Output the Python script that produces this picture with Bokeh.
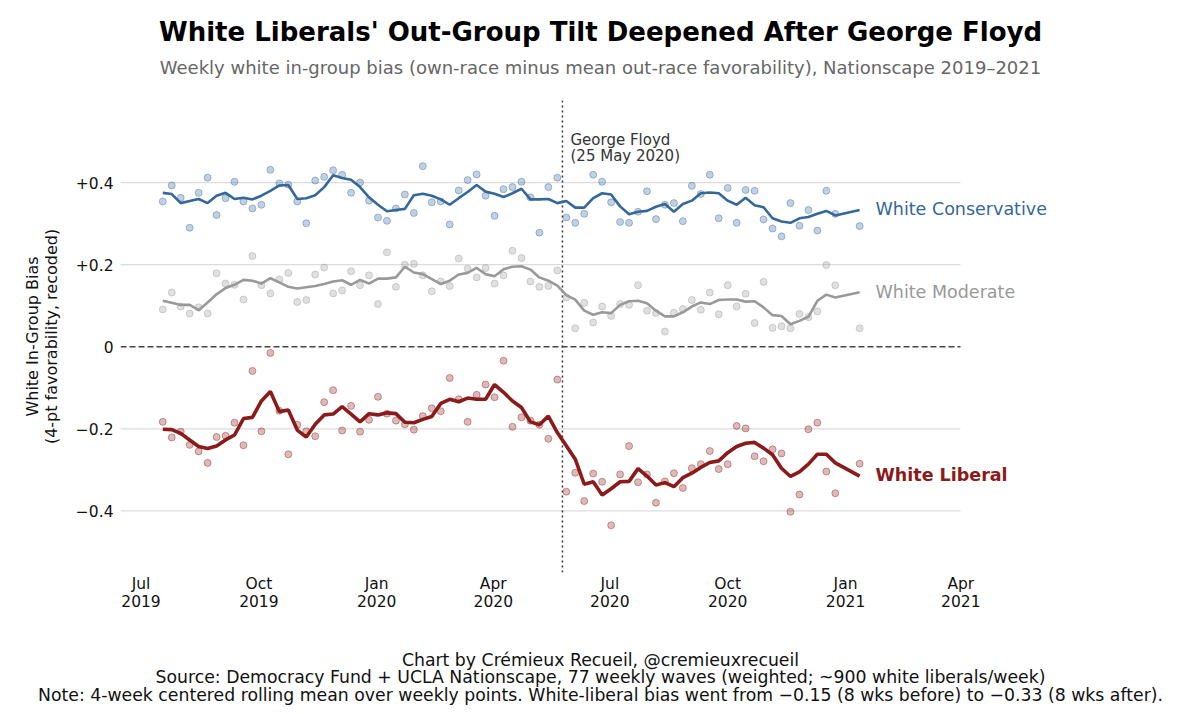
import pandas as pd
from bokeh.plotting import figure
from bokeh.layouts import column
from bokeh.models import (Range1d, Label, FixedTicker, CustomJSTickFormatter,
                          ColumnDataSource)
from bokeh.embed import file_html
from bokeh.resources import INLINE

# ---------------- data ----------------
dates = list(pd.date_range("2019-07-18", periods=76, freq="7D")) + [pd.Timestamp("2021-01-12")]

cons_pts = [0.354, 0.393, 0.363, 0.290, 0.375, 0.412, 0.321, 0.362, 0.402, 0.354,
            0.337, 0.346, 0.431, 0.398, 0.395, 0.354, 0.301, 0.405, 0.414, 0.430,
            0.419, 0.375, 0.400, 0.356, 0.315, 0.307, 0.337, 0.371, 0.326, 0.440,
            0.352, 0.354, 0.298, 0.381, 0.406, 0.420, 0.368, 0.319, 0.384, 0.389,
            0.402, 0.364, 0.278, 0.389, 0.412, 0.315, 0.302, 0.324, 0.419, 0.402,
            0.352, 0.304, 0.302, 0.329, 0.379, 0.311, 0.346, 0.350, 0.306, 0.392,
            0.372, 0.419, 0.313, 0.387, 0.302, 0.382, 0.380, 0.310, 0.288, 0.269,
            0.350, 0.295, 0.333, 0.283, 0.380, 0.324, 0.294]
cons_line = [0.375, 0.372, 0.350, 0.355, 0.360, 0.350, 0.368, 0.375, 0.360, 0.363,
             0.359, 0.368, 0.380, 0.393, 0.394, 0.360, 0.362, 0.369, 0.389, 0.418,
             0.411, 0.407, 0.389, 0.364, 0.346, 0.330, 0.333, 0.336, 0.369, 0.373,
             0.368, 0.359, 0.346, 0.362, 0.377, 0.394, 0.378, 0.373, 0.365, 0.374,
             0.385, 0.359, 0.359, 0.360, 0.350, 0.355, 0.339, 0.339, 0.362, 0.374,
             0.371, 0.342, 0.323, 0.329, 0.331, 0.341, 0.348, 0.329, 0.348, 0.356,
             0.374, 0.376, 0.374, 0.356, 0.346, 0.363, 0.345, 0.340, 0.313, 0.305,
             0.302, 0.313, 0.316, 0.324, 0.331, 0.320, 0.333]

mod_pts = [0.091, 0.132, 0.098, 0.081, 0.096, 0.081, 0.179, 0.154, 0.151, 0.115,
           0.221, 0.150, 0.130, 0.164, 0.180, 0.109, 0.114, 0.176, 0.193, 0.130,
           0.137, 0.184, 0.150, 0.174, 0.104, 0.230, 0.146, 0.200, 0.202, 0.174,
           0.135, 0.159, 0.148, 0.215, 0.190, 0.169, 0.192, 0.154, 0.174, 0.234,
           0.216, 0.159, 0.146, 0.148, 0.186, 0.120, 0.045, 0.107, 0.059, 0.098,
           0.075, 0.104, 0.102, 0.150, 0.088, 0.082, 0.037, 0.083, 0.092, 0.114,
           0.090, 0.132, 0.079, 0.150, 0.098, 0.129, 0.058, 0.158, 0.046, 0.050,
           0.045, 0.080, 0.072, 0.086, 0.199, 0.150, 0.045]
mod_line = [0.112, 0.107, 0.102, 0.102, 0.089, 0.108, 0.128, 0.143, 0.151, 0.163,
            0.161, 0.154, 0.167, 0.157, 0.146, 0.142, 0.145, 0.148, 0.153, 0.159,
            0.162, 0.151, 0.163, 0.154, 0.166, 0.166, 0.169, 0.195, 0.181, 0.177,
            0.165, 0.153, 0.161, 0.176, 0.180, 0.192, 0.177, 0.172, 0.189, 0.195,
            0.196, 0.188, 0.169, 0.161, 0.149, 0.126, 0.115, 0.088, 0.078, 0.084,
            0.082, 0.102, 0.111, 0.112, 0.106, 0.088, 0.074, 0.074, 0.084, 0.098,
            0.108, 0.104, 0.114, 0.115, 0.115, 0.110, 0.111, 0.096, 0.077, 0.075,
            0.055, 0.063, 0.073, 0.112, 0.127, 0.120, 0.133]

lib_pts = [-0.183, -0.221, -0.207, -0.239, -0.255, -0.283, -0.220, -0.217, -0.185, -0.240,
           -0.059, -0.206, -0.015, -0.156, -0.262, -0.190, -0.206, -0.218, -0.135, -0.106,
           -0.204, -0.144, -0.207, -0.178, -0.122, -0.163, -0.180, -0.189, -0.202, -0.169,
           -0.150, -0.157, -0.076, -0.128, -0.183, -0.117, -0.092, -0.123, -0.034, -0.195,
           -0.172, -0.180, -0.190, -0.224, -0.080, -0.353, -0.307, -0.376, -0.309, -0.329,
           -0.435, -0.311, -0.242, -0.330, -0.311, -0.380, -0.328, -0.308, -0.344, -0.296,
           -0.286, -0.254, -0.298, -0.286, -0.193, -0.199, -0.267, -0.279, -0.250, -0.260,
           -0.402, -0.360, -0.201, -0.185, -0.304, -0.357, -0.285]
lib_line = [-0.201, -0.202, -0.211, -0.227, -0.243, -0.248, -0.242, -0.227, -0.215, -0.175,
            -0.172, -0.132, -0.109, -0.158, -0.154, -0.203, -0.220, -0.189, -0.166, -0.164,
            -0.146, -0.164, -0.183, -0.163, -0.166, -0.161, -0.163, -0.184, -0.185, -0.177,
            -0.170, -0.138, -0.128, -0.134, -0.125, -0.128, -0.128, -0.092, -0.111, -0.132,
            -0.148, -0.183, -0.190, -0.169, -0.209, -0.241, -0.274, -0.335, -0.329, -0.361,
            -0.346, -0.329, -0.328, -0.297, -0.315, -0.337, -0.331, -0.341, -0.319, -0.308,
            -0.294, -0.282, -0.278, -0.258, -0.243, -0.235, -0.233, -0.247, -0.263, -0.296,
            -0.316, -0.305, -0.286, -0.262, -0.262, -0.283, -0.315]

x_tick_dates = ["2019-07-01", "2019-10-01", "2020-01-01", "2020-04-01",
                "2020-07-01", "2020-10-01", "2021-01-01", "2021-04-01"]
y_ticks = [-0.4, -0.2, 0.0, 0.2, 0.4]
grid_values = [-0.4, -0.2, 0.2, 0.4]
event_date = "2020-05-25"

series_names = ["White Conservative", "White Moderate", "White Liberal"]

TITLE = "White Liberals' Out-Group Tilt Deepened After George Floyd"
SUBTITLE = ("Weekly white in-group bias (own-race minus mean out-race favorability), "
            "Nationscape 2019\u20132021")
Y_LABEL = "White In-Group Bias\n(4-pt favorability, recoded)"
FOOTER = ["Chart by Cr\u00e9mieux Recueil, @cremieuxrecueil",
          "Source: Democracy Fund + UCLA Nationscape, 77 weekly waves (weighted; ~900 white liberals/week)",
          "Note: 4-week centered rolling mean over weekly points. White-liberal bias went from "
          "\u22120.15 (8 wks before) to \u22120.33 (8 wks after)."]

# ---------------- style / layout ----------------
FONT = "DejaVu Sans"
BLUE = "#34679a"
GRAY = "#999999"
RED = "#8b1a1a"
DAY = 86400000.0


def ms(ts):
    return pd.Timestamp(ts).value / 1e6


W, H = 1200, 714
HEAD_H = 92                      # title strip height
MAIN_H = H - HEAD_H
# main chart frame spans page x 120..1080, page y 100..572
BL, BR, BT = 120, 120, 100 - HEAD_H
BB = MAIN_H - (572 - HEAD_H)
FW = W - BL - BR
PX_PER_DAY = 1.281
X0 = ms("2019-07-01") - (140.5 - BL) / PX_PER_DAY * DAY
X1 = X0 + FW / PX_PER_DAY * DAY
Y0, Y1 = -0.55, 0.60


def px_x(px):
    return X0 + (px - BL) / FW * (X1 - X0)


def px_y(py):
    return Y1 - (py - 100) / 472 * (Y1 - Y0)


# ---------- title strip ----------
head = figure(width=W, height=HEAD_H, x_range=Range1d(0, W), y_range=Range1d(HEAD_H, 0),
              output_backend="svg", toolbar_location=None,
              x_axis_location=None, y_axis_location=None,
              min_border_left=0, min_border_right=0, min_border_top=0, min_border_bottom=0)
head.outline_line_color = None
head.grid.visible = False
head.background_fill_color = "white"
head.border_fill_color = "white"
head.add_layout(Label(x=600, y=31, text=TITLE, text_font=FONT, text_font_size="26px",
                      text_font_style="bold", text_color="#000000",
                      text_align="center", text_baseline="middle"))
head.add_layout(Label(x=600, y=67, text=SUBTITLE, text_font=FONT, text_font_size="18px",
                      text_color="#666666", text_align="center", text_baseline="middle"))

# ---------- main chart ----------
p = figure(width=W, height=MAIN_H, x_axis_type="datetime",
           x_range=Range1d(X0, X1), y_range=Range1d(Y0, Y1),
           output_backend="svg", toolbar_location=None,
           min_border_left=BL, min_border_right=BR,
           min_border_top=BT, min_border_bottom=BB)
p.outline_line_color = None
p.background_fill_color = "white"
p.border_fill_color = "white"
p.xgrid.grid_line_color = None
p.ygrid.grid_line_color = None

for ax in (p.xaxis, p.yaxis):
    ax.axis_line_color = None
    ax.major_tick_line_color = None
    ax.minor_tick_line_color = None
    ax.major_tick_out = 0
    ax.major_tick_in = 0
    ax.major_label_text_font = FONT
    ax.major_label_text_font_size = "15.5px"
    ax.major_label_text_color = "#111111"
    ax.axis_label_text_font = FONT
    ax.axis_label_text_font_style = "normal"
    ax.axis_label_text_color = "#111111"

p.xaxis.ticker = FixedTicker(ticks=[ms(d) for d in x_tick_dates])
p.xaxis.formatter = CustomJSTickFormatter(code="""
const m = ["Jan","Feb","Mar","Apr","May","Jun","Jul","Aug","Sep","Oct","Nov","Dec"];
const d = new Date(tick);
return m[d.getUTCMonth()] + "\\n" + d.getUTCFullYear();
""")
p.xaxis.major_label_standoff = 2
p.xaxis.major_label_text_line_height = 1.0
p.xaxis.axis_label = "\n".join(FOOTER)
p.xaxis.axis_label_text_font_size = "17.3px"
p.xaxis.axis_label_text_line_height = 0.875
p.xaxis.axis_label_standoff = 36

p.yaxis.ticker = FixedTicker(ticks=y_ticks)
p.yaxis.formatter = CustomJSTickFormatter(code="""
if (Math.abs(tick) < 1e-9) return "0";
const s = Math.abs(tick).toFixed(1);
return tick > 0 ? "+" + s : "\\u2212" + s;
""")
p.yaxis.major_label_standoff = 7
p.yaxis.axis_label = Y_LABEL
p.yaxis.axis_label_text_font_size = "16px"
p.yaxis.axis_label_text_line_height = 0.97
p.yaxis.axis_label_standoff = 12

# grid lines and reference lines
gx1 = px_x(960)
p.segment(x0=[X0] * len(grid_values), x1=[gx1] * len(grid_values),
          y0=grid_values, y1=grid_values, line_color="#dcdcdc", line_width=1.2)
p.segment(x0=[X0], x1=[gx1], y0=[0], y1=[0], line_color="#444444",
          line_dash="6 3", line_width=1.3)
p.segment(x0=[ms(event_date)], x1=[ms(event_date)], y0=[Y0], y1=[Y1],
          line_color="#333333", line_dash="2 3", line_width=1.5)

# data
src = ColumnDataSource(dict(date=dates, cons_pts=cons_pts, cons_line=cons_line,
                            mod_pts=mod_pts, mod_line=mod_line,
                            lib_pts=lib_pts, lib_line=lib_line))

for pts, col in (("cons_pts", BLUE), ("mod_pts", GRAY), ("lib_pts", RED)):
    p.scatter(x="date", y=pts, source=src, size=7, fill_color=col, fill_alpha=0.3,
              line_color=col, line_alpha=0.4, line_width=1)

p.line(x="date", y="mod_line", source=src, line_color=GRAY, line_width=2.6)
p.line(x="date", y="cons_line", source=src, line_color=BLUE, line_width=2.6)
p.line(x="date", y="lib_line", source=src, line_color=RED, line_width=3.6)


def add_text(text, px, py, size, color="#111111", align="left", bold=False):
    p.add_layout(Label(x=px_x(px), y=px_y(py), text=text, text_color=color,
                       text_font=FONT, text_font_size=size,
                       text_font_style="bold" if bold else "normal",
                       text_align=align, text_baseline="middle"))


add_text(series_names[0], 875, 208.5, "17.5px", BLUE)
add_text(series_names[1], 875, 291, "17.5px", GRAY)
add_text(series_names[2], 875, 474, "17.5px", RED, bold=True)

add_text("George Floyd", 570, 139, "15px", "#333333")
add_text("(25 May 2020)", 570, 155, "15px", "#333333")

layout = column(head, p, spacing=0)
open("out.html", "w").write(file_html(layout, INLINE))
